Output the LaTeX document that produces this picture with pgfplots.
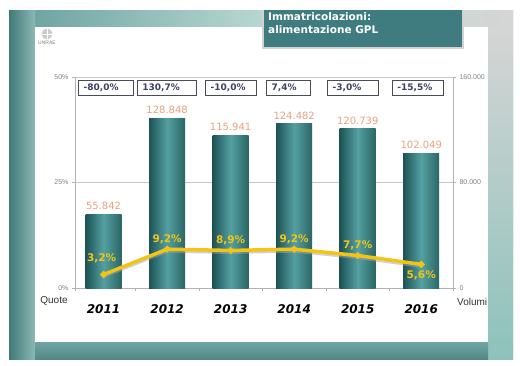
\documentclass[border=0pt]{standalone}
\usepackage{pgfplots}
\usepackage{pgfplotstable}
\pgfplotsset{compat=1.18}
\usepackage{fontspec}
\setmainfont{DejaVu Sans}
\newfontfamily\lib{Liberation Sans}
\definecolor{tealA}{HTML}{3F7A79}
\definecolor{tealB}{HTML}{8DC2BB}
\definecolor{tealC}{HTML}{6FA6A2}
\definecolor{tealL}{HTML}{BCD9D4}
\definecolor{grayL}{HTML}{D5D5D5}
\definecolor{titlefill}{HTML}{3F7C7F}
\definecolor{bardark}{HTML}{1D5356}
\definecolor{barlight}{HTML}{55A0A2}
\definecolor{bardarkR}{HTML}{2A6664}
\definecolor{orangel}{HTML}{E9A27E}
\definecolor{yellowl}{HTML}{F3C416}
\definecolor{boxtext}{HTML}{3D4068}
\definecolor{boxborder}{HTML}{4A4A5A}
\definecolor{tickgray}{HTML}{808080}
\pgfplotstableread{
x v
0 55842
1 128848
2 115941
3 124482
4 120739
5 102049
}\vol
\pgfplotstableread{
x q
0 3.2
1 9.2
2 8.9
3 9.2
4 7.7
5 5.6
}\quote
\begin{document}
\begin{tikzpicture}
\begin{scope}[x=1pt,y=-1pt]
\useasboundingbox (0,0) rectangle (520,365);
\fill[white] (0,0) rectangle (520,365);
% slide background
\fill[left color=tealA, right color=tealB] (9,10) rectangle (513,359);
\fill[left color=tealC, right color=grayL, middle color=tealL] (35,10) rectangle (513,27);
\fill[top color=grayL, bottom color=tealB] (488,27) rectangle (513,359);
\fill[left color=tealA, right color=tealC!80!white] (9,10) rectangle (35,359);
\fill[top color=tealC, bottom color=tealA!90!white] (35,342) rectangle (488,359);
\fill[white] (35,27) rectangle (488,342);
% logo
\fill[gray!40] (47,34) circle (5.5);
\draw[white, line width=0.4pt] (41.5,34) -- (52.5,34) (47,28.5) -- (47,39.5);
\node[font=\lib\fontsize{5}{6}\selectfont, text=gray] at (47,43) {UNRAE};
% title box
\fill[titlefill] (263,10) rectangle (463,48);
\draw[gray!35, line width=1.5pt] (263,10) -- (263,48) -- (463,48) -- (463,10);
\node[anchor=north west, text=white, font=\bfseries\fontsize{10.5}{12.5}\selectfont, align=left, inner sep=0pt] at (268,12.5) {Immatricolazioni:\\alimentazione GPL};
\end{scope}

\begin{axis}[
  at={(75pt,-288pt)}, anchor=south west, scale only axis,
  width=378pt, height=211pt,
  xmin=-0.45, xmax=5.5, ymin=0, ymax=160000,
  axis y line*=right, axis x line*=bottom,
  axis line style={gray!60},
  xtick={0,1,2,3,4,5},
  xticklabels={2011,2012,2013,2014,2015,2016},
  major x tick style={draw=none},
  minor xtick={-0.45,0.5,1.5,2.5,3.5,4.5,5.5},
  minor x tick style={gray!60},
  minor tick length=3pt,
  tick align=outside,
  major tick length=3pt,
  scaled y ticks=false,
  ytick={0,80000,160000},
  yticklabels={0,80.000,160.000},
  ytick style={gray!60},
  yticklabel style={font=\lib\fontsize{7}{8}\selectfont, text=tickgray},
  xticklabel style={font=\bfseries\itshape\fontsize{12}{14}\selectfont, anchor=center, yshift=-18pt},
  ymajorgrids, grid style={gray!45},
  clip=false,
]
\pgfplotsinvokeforeach{0,...,5}{
\addplot[ybar, bar width=36pt, bar shift=0pt, draw=none,
  left color=bardark, right color=bardarkR, middle color=barlight,
  restrict x to domain=#1:#1]
  table[x=x, y=v] {\vol};
}
\addplot[draw=none, mark=none, nodes near coords,
  every node near coord/.append style={font=\fontsize{10}{12}\selectfont, text=orangel, anchor=south, yshift=1pt},
  /pgf/number format/.cd, fixed, precision=0, 1000 sep={.}, assume math mode=true]
  table[x=x, y=v] {\vol};
\end{axis}

\begin{axis}[
  at={(75pt,-288pt)}, anchor=south west, scale only axis,
  width=378pt, height=211pt,
  xmin=-0.45, xmax=5.5, ymin=0, ymax=50,
  axis x line=none, axis y line*=left,
  axis line style={gray!60},
  ytick={0,25,50},
  yticklabels={0\%,25\%,50\%},
  ytick style={gray!60},
  tick align=outside, major tick length=3pt,
  yticklabel style={font=\lib\fontsize{7}{8}\selectfont, text=tickgray},
  clip=false,
]
\addplot[gray!70, line width=3pt, opacity=0.5, transform canvas={yshift=-2pt}]
  table[x=x, y=q] {\quote};
\addplot[color=yellowl, line width=3.5pt, mark=*, mark size=1.2pt, mark options={fill=yellow!30, draw=none}]
  table[x=x, y=q] {\quote};
\addplot[draw=none, mark=none, nodes near coords={\pgfmathprintnumber{\pgfplotspointmeta}\%},
  every node near coord/.append style={font=\bfseries\fontsize{10.5}{12}\selectfont, text=yellowl, anchor=south, yshift=8pt, xshift=-2pt},
  /pgf/number format/.cd, fixed, fixed zerofill, precision=1, use comma, assume math mode=true,
  /pgfplots/restrict x to domain=0:0]
  table[x=x, y=q] {\quote};
\addplot[draw=none, mark=none, nodes near coords={\pgfmathprintnumber{\pgfplotspointmeta}\%},
  every node near coord/.append style={font=\bfseries\fontsize{10.5}{12}\selectfont, text=yellowl, anchor=south, yshift=2pt},
  /pgf/number format/.cd, fixed, fixed zerofill, precision=1, use comma, assume math mode=true,
  /pgfplots/restrict x to domain=1:4]
  table[x=x, y=q] {\quote};
\addplot[draw=none, mark=none, nodes near coords={\pgfmathprintnumber{\pgfplotspointmeta}\%},
  every node near coord/.append style={font=\bfseries\fontsize{10.5}{12}\selectfont, text=yellowl, anchor=north, yshift=-3pt},
  /pgf/number format/.cd, fixed, fixed zerofill, precision=1, use comma, assume math mode=true,
  /pgfplots/restrict x to domain=5:5]
  table[x=x, y=q] {\quote};
% variation boxes
\begin{scope}[every node/.style={draw=boxborder, fill=white, line width=0.8pt, anchor=west,
   minimum height=15pt, inner xsep=5pt, inner ysep=0pt, align=left,
   font=\bfseries\fontsize{9}{10}\selectfont, text=boxtext}]
\node[text width=45pt] at (axis cs:-0.40,47.5) {-80,0\%};
\node[text width=49pt] at (axis cs:0.525,47.5) {130,7\%};
\node[text width=41pt] at (axis cs:1.60,47.5) {-10,0\%};
\node[text width=34pt] at (axis cs:2.56,47.5) {7,4\%};
\node[text width=41pt] at (axis cs:3.52,47.5) {-3,0\%};
\node[text width=41pt] at (axis cs:4.54,47.5) {-15,5\%};
\end{scope}
\end{axis}

\begin{scope}[x=1pt,y=-1pt]
\node[font=\lib\fontsize{10}{12}\selectfont, text=black!80] at (54,301) {Quote};
\node[font=\lib\fontsize{10}{12}\selectfont, text=black!80, anchor=west, inner xsep=0pt] at (457,302) {Volumi};
\end{scope}
\end{tikzpicture}
\end{document}
